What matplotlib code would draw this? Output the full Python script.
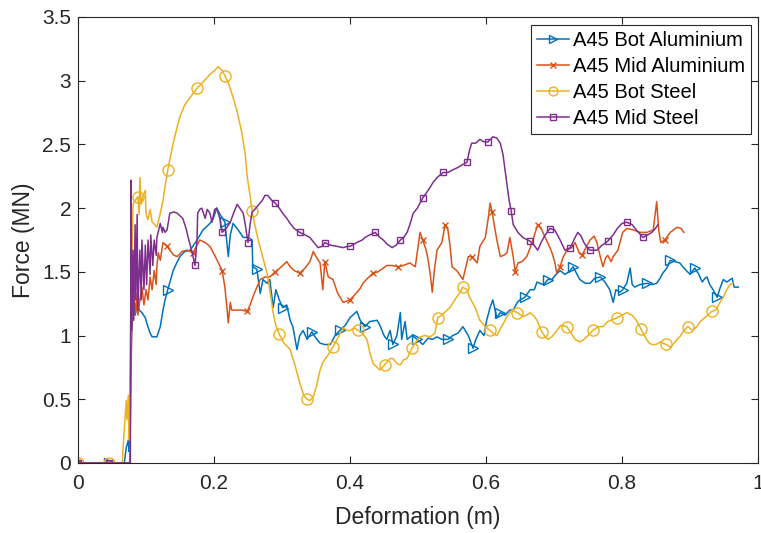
import numpy as np
import matplotlib
matplotlib.use("Agg")
import matplotlib.pyplot as plt
from matplotlib.lines import Line2D

# ---- data: deformation (m) vs force (MN) ----
bot_al_x = [0.000, 0.046, 0.066, 0.068, 0.071, 0.074, 0.075, 0.076, 0.078, 0.079, 0.082, 0.084, 0.087, 0.090,
            0.094, 0.099, 0.101, 0.106, 0.109, 0.116, 0.121, 0.125, 0.128, 0.132, 0.140, 0.146, 0.150, 0.157,
            0.165, 0.175, 0.184, 0.194, 0.199, 0.204, 0.209, 0.216, 0.221, 0.224, 0.228, 0.234, 0.238, 0.243,
            0.250, 0.256, 0.257, 0.263, 0.268, 0.272, 0.278, 0.282, 0.287, 0.291, 0.296, 0.301, 0.307, 0.312,
            0.316, 0.322, 0.326, 0.331, 0.337, 0.344, 0.350, 0.356, 0.363, 0.371, 0.378, 0.385, 0.393, 0.400,
            0.410, 0.415, 0.422, 0.429, 0.440, 0.444, 0.450, 0.454, 0.459, 0.463, 0.469, 0.474, 0.476, 0.481,
            0.484, 0.491, 0.499, 0.507, 0.515, 0.521, 0.528, 0.535, 0.544, 0.551, 0.559, 0.566, 0.574, 0.581,
            0.585, 0.591, 0.597, 0.601, 0.606, 0.610, 0.616, 0.621, 0.628, 0.635, 0.640, 0.646, 0.650, 0.657,
            0.665, 0.671, 0.675, 0.679, 0.685, 0.691, 0.697, 0.703, 0.709, 0.716, 0.722, 0.728, 0.734, 0.738,
            0.746, 0.753, 0.760, 0.768, 0.775, 0.782, 0.787, 0.791, 0.797, 0.801, 0.807, 0.812, 0.815, 0.819,
            0.826, 0.837, 0.844, 0.851, 0.856, 0.860, 0.866, 0.871, 0.878, 0.885, 0.891, 0.900, 0.907, 0.913,
            0.918, 0.922, 0.925, 0.929, 0.934, 0.940, 0.944, 0.949, 0.954, 0.962, 0.965, 0.971]
bot_al_y = [0.00, 0.00, 0.00, 0.00, 0.12, 0.18, 0.09, 0.49, 0.81, 1.04, 1.28, 1.16, 1.26, 1.20,
            1.18, 1.14, 1.10, 1.02, 0.99, 0.99, 1.07, 1.20, 1.28, 1.36, 1.51, 1.58, 1.62, 1.66,
            1.67, 1.75, 1.83, 1.88, 1.92, 2.00, 1.95, 1.89, 1.62, 1.79, 1.88, 1.84, 1.81, 1.77,
            1.77, 1.75, 1.54, 1.52, 1.33, 1.44, 1.41, 1.44, 1.22, 1.36, 1.28, 1.22, 1.24, 1.12,
            1.07, 0.89, 1.00, 1.04, 0.97, 1.03, 0.98, 0.94, 0.93, 0.93, 1.00, 1.04, 1.08, 1.14,
            1.19, 1.12, 1.07, 1.11, 1.12, 1.08, 1.00, 0.97, 1.04, 0.93, 1.00, 1.18, 0.97, 1.11,
            0.97, 1.00, 0.97, 0.93, 0.98, 0.97, 0.99, 0.97, 0.97, 1.00, 1.02, 1.07, 1.00, 0.90,
            0.97, 1.04, 1.00, 1.12, 1.22, 1.28, 1.14, 1.18, 1.16, 1.20, 1.20, 1.26, 1.28, 1.30,
            1.36, 1.36, 1.42, 1.41, 1.40, 1.44, 1.44, 1.48, 1.51, 1.48, 1.50, 1.54, 1.48, 1.44,
            1.41, 1.41, 1.45, 1.46, 1.42, 1.36, 1.26, 1.36, 1.34, 1.36, 1.41, 1.53, 1.40, 1.38,
            1.40, 1.41, 1.40, 1.41, 1.45, 1.49, 1.53, 1.59, 1.58, 1.57, 1.53, 1.48, 1.53, 1.48,
            1.42, 1.45, 1.46, 1.40, 1.36, 1.30, 1.37, 1.44, 1.42, 1.45, 1.38, 1.38]
bot_al_marks = [0.000, 0.046, 0.132, 0.216, 0.263, 0.301, 0.344, 0.385, 0.422, 0.463, 0.499, 0.544,
                0.581, 0.621, 0.657, 0.691, 0.728, 0.768, 0.801, 0.837, 0.871, 0.907, 0.940]

mid_al_x = [0.000, 0.046, 0.074, 0.076, 0.078, 0.079, 0.082, 0.085, 0.087, 0.088, 0.091, 0.094, 0.097, 0.100,
            0.103, 0.106, 0.109, 0.112, 0.115, 0.116, 0.118, 0.121, 0.125, 0.131, 0.135, 0.141, 0.146, 0.153,
            0.160, 0.169, 0.175, 0.179, 0.187, 0.194, 0.201, 0.212, 0.216, 0.219, 0.221, 0.224, 0.226, 0.234,
            0.241, 0.249, 0.253, 0.257, 0.263, 0.268, 0.275, 0.282, 0.290, 0.297, 0.307, 0.312, 0.318, 0.326,
            0.334, 0.341, 0.346, 0.350, 0.356, 0.360, 0.363, 0.368, 0.375, 0.382, 0.390, 0.400, 0.407, 0.415,
            0.419, 0.426, 0.434, 0.441, 0.449, 0.454, 0.462, 0.471, 0.478, 0.488, 0.496, 0.503, 0.507, 0.512,
            0.515, 0.518, 0.521, 0.524, 0.528, 0.535, 0.540, 0.544, 0.547, 0.550, 0.557, 0.566, 0.574, 0.579,
            0.587, 0.591, 0.599, 0.603, 0.606, 0.609, 0.613, 0.616, 0.621, 0.626, 0.631, 0.635, 0.640, 0.643,
            0.647, 0.653, 0.660, 0.665, 0.669, 0.676, 0.682, 0.687, 0.694, 0.697, 0.701, 0.704, 0.709, 0.713,
            0.719, 0.726, 0.731, 0.737, 0.741, 0.747, 0.753, 0.759, 0.763, 0.768, 0.772, 0.776, 0.779, 0.784,
            0.787, 0.794, 0.801, 0.807, 0.816, 0.826, 0.837, 0.846, 0.851, 0.854, 0.857, 0.863, 0.871, 0.881,
            0.887, 0.891]
mid_al_y = [0.00, 0.00, 0.00, 0.00, 0.65, 1.12, 1.32, 1.18, 1.33, 1.16, 1.28, 1.38, 1.24, 1.36,
            1.28, 1.46, 1.36, 1.51, 1.40, 1.54, 1.65, 1.59, 1.73, 1.70, 1.67, 1.63, 1.62, 1.66,
            1.67, 1.65, 1.71, 1.75, 1.73, 1.70, 1.63, 1.51, 1.38, 1.22, 1.10, 1.26, 1.20, 1.20,
            1.20, 1.19, 1.24, 1.30, 1.38, 1.44, 1.46, 1.46, 1.50, 1.53, 1.58, 1.54, 1.51, 1.49,
            1.53, 1.58, 1.66, 1.62, 1.57, 1.36, 1.58, 1.46, 1.44, 1.33, 1.26, 1.28, 1.32, 1.37,
            1.41, 1.45, 1.49, 1.50, 1.53, 1.55, 1.55, 1.54, 1.55, 1.57, 1.54, 1.81, 1.75, 1.67,
            1.59, 1.48, 1.34, 1.51, 1.67, 1.73, 1.87, 1.83, 1.71, 1.54, 1.51, 1.44, 1.62, 1.62,
            1.57, 1.70, 1.77, 1.91, 2.04, 1.97, 1.84, 1.75, 1.62, 1.63, 1.65, 1.77, 1.62, 1.50,
            1.57, 1.58, 1.62, 1.69, 1.75, 1.87, 1.83, 1.77, 1.69, 1.65, 1.58, 1.49, 1.54, 1.61,
            1.67, 1.69, 1.73, 1.65, 1.63, 1.69, 1.75, 1.78, 1.73, 1.62, 1.54, 1.61, 1.63, 1.58,
            1.62, 1.67, 1.81, 1.84, 1.83, 1.81, 1.81, 1.83, 2.05, 1.83, 1.73, 1.75, 1.81, 1.85,
            1.84, 1.81]
mid_al_marks = [0.000, 0.046, 0.131, 0.169, 0.212, 0.249, 0.290, 0.326, 0.363, 0.400, 0.434, 0.471,
                0.507, 0.540, 0.579, 0.609, 0.643, 0.676, 0.709, 0.741, 0.863]

bot_st_x = [0.000, 0.046, 0.065, 0.068, 0.071, 0.072, 0.074, 0.075, 0.078, 0.081, 0.084, 0.088, 0.090, 0.091,
            0.093, 0.096, 0.099, 0.100, 0.103, 0.106, 0.109, 0.113, 0.116, 0.121, 0.125, 0.128, 0.132, 0.135,
            0.140, 0.146, 0.150, 0.157, 0.165, 0.175, 0.184, 0.194, 0.201, 0.206, 0.212, 0.216, 0.222, 0.228,
            0.234, 0.241, 0.246, 0.249, 0.253, 0.256, 0.260, 0.265, 0.271, 0.278, 0.282, 0.287, 0.291, 0.296,
            0.303, 0.312, 0.319, 0.326, 0.332, 0.337, 0.341, 0.346, 0.351, 0.356, 0.360, 0.368, 0.375, 0.382,
            0.390, 0.396, 0.400, 0.406, 0.412, 0.418, 0.425, 0.429, 0.434, 0.440, 0.444, 0.451, 0.459, 0.463,
            0.469, 0.474, 0.479, 0.484, 0.491, 0.497, 0.503, 0.510, 0.518, 0.525, 0.529, 0.535, 0.541, 0.547,
            0.554, 0.562, 0.566, 0.572, 0.576, 0.584, 0.591, 0.599, 0.606, 0.612, 0.616, 0.624, 0.631, 0.638,
            0.646, 0.654, 0.660, 0.665, 0.671, 0.675, 0.682, 0.687, 0.691, 0.697, 0.704, 0.710, 0.719, 0.725,
            0.731, 0.738, 0.744, 0.750, 0.757, 0.765, 0.772, 0.779, 0.793, 0.800, 0.807, 0.815, 0.821, 0.828,
            0.834, 0.840, 0.844, 0.850, 0.856, 0.865, 0.871, 0.875, 0.881, 0.885, 0.891, 0.897, 0.904, 0.910,
            0.915, 0.924, 0.932, 0.938, 0.944, 0.949, 0.954, 0.959, 0.963]
bot_st_y = [0.00, 0.00, 0.00, 0.26, 0.49, 0.34, 0.53, 0.18, 1.28, 2.03, 2.06, 2.09, 1.95, 2.24,
            2.03, 2.10, 2.14, 1.95, 1.91, 1.99, 1.89, 1.87, 1.85, 1.96, 2.06, 2.17, 2.30, 2.38,
            2.51, 2.64, 2.72, 2.81, 2.87, 2.94, 2.99, 3.05, 3.08, 3.11, 3.08, 3.04, 2.97, 2.87,
            2.76, 2.59, 2.42, 2.24, 2.10, 1.98, 1.87, 1.75, 1.63, 1.49, 1.36, 1.18, 1.08, 1.01,
            0.94, 0.89, 0.77, 0.63, 0.53, 0.50, 0.49, 0.52, 0.61, 0.73, 0.79, 0.85, 0.91, 0.98,
            1.06, 1.04, 1.04, 1.06, 1.04, 1.02, 0.97, 0.87, 0.78, 0.75, 0.73, 0.77, 0.82, 0.82,
            0.78, 0.77, 0.81, 0.82, 0.90, 0.95, 0.99, 1.00, 0.99, 1.02, 1.14, 1.16, 1.19, 1.22,
            1.28, 1.34, 1.38, 1.36, 1.30, 1.22, 1.12, 1.07, 1.04, 1.01, 1.00, 1.08, 1.15, 1.20,
            1.18, 1.15, 1.16, 1.18, 1.15, 1.12, 1.03, 0.99, 0.97, 0.99, 1.04, 1.08, 1.07, 1.02,
            0.97, 0.95, 0.97, 1.00, 1.04, 1.07, 1.07, 1.11, 1.14, 1.16, 1.18, 1.16, 1.12, 1.05,
            0.99, 0.94, 0.93, 0.93, 0.95, 0.93, 0.91, 0.93, 0.97, 0.99, 1.04, 1.07, 1.04, 1.07,
            1.11, 1.15, 1.19, 1.20, 1.26, 1.30, 1.36, 1.40, 1.41]
bot_st_marks = [0.000, 0.046, 0.088, 0.132, 0.175, 0.216, 0.256, 0.296, 0.337, 0.375, 0.412, 0.451,
                0.491, 0.529, 0.566, 0.606, 0.646, 0.682, 0.719, 0.757, 0.793, 0.828, 0.865, 0.897, 0.932]

mid_st_x = [0.000, 0.046, 0.077, 0.078, 0.079, 0.081, 0.082, 0.084, 0.085, 0.087, 0.088, 0.091, 0.093, 0.094,
            0.097, 0.099, 0.101, 0.103, 0.106, 0.107, 0.110, 0.112, 0.115, 0.116, 0.121, 0.124, 0.125, 0.128,
            0.131, 0.135, 0.141, 0.146, 0.154, 0.159, 0.162, 0.168, 0.172, 0.175, 0.176, 0.179, 0.182, 0.187,
            0.190, 0.194, 0.197, 0.201, 0.204, 0.209, 0.212, 0.216, 0.219, 0.224, 0.228, 0.234, 0.238, 0.243,
            0.246, 0.250, 0.253, 0.256, 0.260, 0.263, 0.271, 0.275, 0.279, 0.285, 0.290, 0.296, 0.301, 0.307,
            0.312, 0.318, 0.326, 0.334, 0.341, 0.347, 0.353, 0.359, 0.363, 0.371, 0.381, 0.390, 0.396, 0.400,
            0.410, 0.418, 0.422, 0.429, 0.437, 0.444, 0.449, 0.454, 0.462, 0.468, 0.474, 0.479, 0.484, 0.488,
            0.493, 0.499, 0.503, 0.507, 0.515, 0.522, 0.528, 0.537, 0.544, 0.551, 0.559, 0.565, 0.572, 0.576,
            0.579, 0.585, 0.591, 0.597, 0.603, 0.610, 0.616, 0.621, 0.625, 0.628, 0.631, 0.634, 0.637, 0.640,
            0.647, 0.654, 0.665, 0.672, 0.676, 0.681, 0.687, 0.694, 0.701, 0.709, 0.716, 0.724, 0.731, 0.735,
            0.740, 0.744, 0.749, 0.753, 0.763, 0.771, 0.779, 0.787, 0.793, 0.800, 0.807, 0.815, 0.821, 0.831,
            0.838, 0.844, 0.849, 0.853]
mid_st_y = [0.00, 0.00, 0.00, 2.22, 1.04, 1.67, 1.12, 1.87, 1.28, 1.95, 1.20, 1.67, 1.28, 1.75,
            1.36, 1.71, 1.40, 1.75, 1.48, 1.79, 1.55, 1.75, 1.63, 1.77, 1.88, 1.81, 1.85, 1.81,
            1.83, 1.96, 1.97, 1.96, 1.92, 1.84, 1.77, 1.65, 1.55, 1.75, 1.96, 1.99, 2.00, 1.92,
            1.99, 1.96, 1.89, 1.99, 2.00, 1.91, 1.81, 1.83, 1.85, 1.89, 1.95, 2.03, 2.00, 1.96,
            1.87, 1.73, 1.87, 1.97, 1.99, 2.01, 2.06, 2.10, 2.10, 2.06, 2.04, 2.00, 1.96, 1.92,
            1.88, 1.84, 1.81, 1.79, 1.77, 1.73, 1.69, 1.70, 1.73, 1.71, 1.70, 1.69, 1.70, 1.70,
            1.73, 1.75, 1.77, 1.79, 1.81, 1.77, 1.75, 1.72, 1.69, 1.71, 1.75, 1.77, 1.81, 1.87,
            1.96, 2.00, 2.04, 2.08, 2.14, 2.20, 2.24, 2.28, 2.28, 2.30, 2.32, 2.34, 2.36, 2.46,
            2.51, 2.51, 2.54, 2.52, 2.52, 2.56, 2.55, 2.51, 2.42, 2.30, 2.18, 2.06, 1.98, 1.87,
            1.81, 1.77, 1.74, 1.70, 1.67, 1.73, 1.79, 1.84, 1.83, 1.75, 1.67, 1.69, 1.77, 1.81,
            1.78, 1.73, 1.69, 1.67, 1.67, 1.71, 1.74, 1.79, 1.84, 1.88, 1.89, 1.87, 1.83, 1.77,
            1.79, 1.81, 1.84, 1.87]
mid_st_marks = [0.000, 0.046, 0.172, 0.212, 0.250, 0.290, 0.326, 0.363, 0.400, 0.437, 0.474, 0.507,
                0.537, 0.572, 0.603, 0.637, 0.665, 0.694, 0.724, 0.753, 0.779, 0.807, 0.831]

series_names = ["A45 Bot Aluminium", "A45 Mid Aluminium", "A45 Bot Steel", "A45 Mid Steel"]
x_ticks = [0, 0.2, 0.4, 0.6, 0.8, 1]
x_tick_labels = ["0", "0.2", "0.4", "0.6", "0.8", "1"]
y_ticks = [0, 0.5, 1, 1.5, 2, 2.5, 3, 3.5]
y_tick_labels = ["0", "0.5", "1", "1.5", "2", "2.5", "3", "3.5"]

# ---- styling ----
plt.rcParams["font.family"] = ["Liberation Sans", "DejaVu Sans"]
ink = "#262626"
styles = [
    dict(color="#0072BD", marker=">", ms=7),
    dict(color="#D95319", marker="x", ms=5),
    dict(color="#EDB120", marker="o", ms=8),
    dict(color="#7E2F8E", marker="s", ms=5),
]
series = [
    (bot_al_x, bot_al_y, bot_al_marks),
    (mid_al_x, mid_al_y, mid_al_marks),
    (bot_st_x, bot_st_y, bot_st_marks),
    (mid_st_x, mid_st_y, mid_st_marks),
]

fig = plt.figure(figsize=(7.61, 5.33), dpi=100)
ax = fig.add_axes([78 / 761, 70 / 533, 680 / 761, 446 / 533])

handles = []
for (x, y, marks), st, name in zip(series, styles, series_names):
    x = np.asarray(x)
    y = np.asarray(y)
    idx = np.flatnonzero(np.isin(x, marks))
    ax.plot(x, y, color=st["color"], lw=1.1, marker=st["marker"], ms=st["ms"],
            mfc="none", mec=st["color"], mew=1.0, markevery=list(idx))
    handles.append(Line2D([], [], color=st["color"], lw=1.1, marker=st["marker"],
                          ms=st["ms"] * 0.8, mfc="none", mec=st["color"], mew=1.0))

ax.set_xlim(0, 1)
ax.set_ylim(0, 3.5)
ax.set_xticks(x_ticks)
ax.set_xticklabels(x_tick_labels)
ax.set_yticks(y_ticks)
ax.set_yticklabels(y_tick_labels)
ax.tick_params(direction="in", top=True, right=True, length=5, width=0.8,
               colors=ink, labelsize=15)
ax.tick_params(axis="x", pad=8)
ax.tick_params(axis="y", pad=5)
for sp in ax.spines.values():
    sp.set_color(ink)
    sp.set_linewidth(0.8)

ax.set_xlabel("Deformation (m)", fontsize=16.5, color=ink, labelpad=9)
ax.set_ylabel("Force (MN)", fontsize=16.5, color=ink, labelpad=5)

leg = ax.legend(handles, series_names, loc="upper right", bbox_to_anchor=(0.99, 0.982),
                fontsize=14.5, frameon=True, fancybox=False, edgecolor=ink, framealpha=1,
                handlelength=1.6, handletextpad=0.2, labelspacing=0.35, borderpad=0.3,
                borderaxespad=0)
leg.get_frame().set_linewidth(0.8)
for t in leg.get_texts():
    t.set_color("black")

fig.savefig("out.png", dpi=100)
